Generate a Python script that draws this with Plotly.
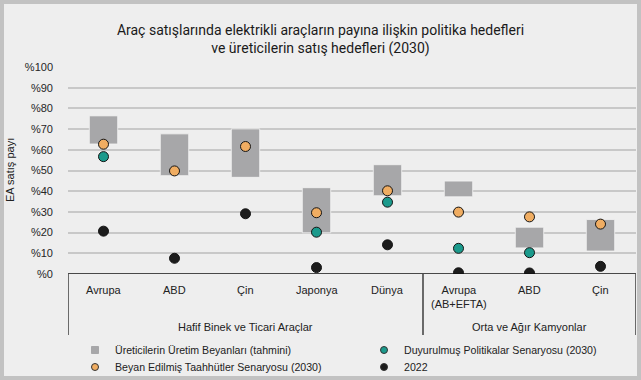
import plotly.graph_objects as go

categories = ["Avrupa", "ABD", "Çin", "Japonya", "Dünya", "Avrupa<br>(AB+EFTA)", "ABD ", "Çin "]
cat_labels = ["Avrupa", "ABD", "Çin", "Japonya", "Dünya", "Avrupa<br>(AB+EFTA)", "ABD", "Çin"]
groups = ["Hafif Binek ve Ticari Araçlar", "Orta ve Ağır Kamyonlar"]
oem_low = [62.8, 47.5, 46.7, 19.9, 37.8, 37.3, 12.6, 11.1]
oem_high = [76.4, 67.7, 70.1, 41.7, 52.8, 44.9, 22.6, 26.3]
steps_2030 = [56.7, None, None, 20.2, 34.7, 12.4, 10.3, None]
aps_2030 = [62.7, 49.8, 61.6, 29.6, 40.2, 29.9, 27.6, 24.1]
ev_2022 = [20.7, 7.6, 29.1, 3.1, 14.1, 0.6, 0.5, 3.7]
y_ticks = [0, 10, 20, 30, 40, 50, 60, 70, 80, 90, 100]

names = ["Üreticilerin Üretim Beyanları (tahmini)",
         "Duyurulmuş Politikalar Senaryosu (2030)",
         "Beyan Edilmiş Taahhütler Senaryosu (2030)",
         "2022"]
colors = ["#a7a7a9", "#1b9a8c", "#f0ad62", "#1c1c1c"]

L, R, T, B = 68, 5, 67, 106
W, H = 641, 380
pw, ph = W - L - R, H - T - B

fig = go.Figure()
fig.add_trace(go.Bar(
    x=categories, y=[h - l for h, l in zip(oem_high, oem_low)], base=oem_low,
    width=0.4, marker=dict(color=colors[0], line=dict(color="#f4f4f4", width=0.8)),
    name=names[0], showlegend=False, hoverinfo="skip"))
for vals, col, nm in [(steps_2030, colors[1], names[1]),
                      (aps_2030, colors[2], names[2]),
                      (ev_2022, colors[3], names[3])]:
    fig.add_trace(go.Scatter(
        x=categories, y=vals, mode="markers", name=nm, showlegend=False,
        marker=dict(size=10, color=col, line=dict(color="#151515", width=1))))

font = "Liberation Sans, Arial, sans-serif"

def py(pix):
    return (T + ph - pix) / ph

def px(pix):
    return (pix - L) / pw

# legend entries (small symbols as in the reference), one legend per entry
legend_spec = [(names[0], colors[0], "square", "legend", 75, 350),
               (names[2], colors[2], "circle", "legend2", 75, 367),
               (names[1], colors[1], "circle", "legend3", 364, 350),
               (names[3], colors[3], "circle", "legend4", 364, 367)]
legend_layout = {}
for nm, col, sym, lg, lx, ly in legend_spec:
    fig.add_trace(go.Scatter(
        x=[None], y=[None], mode="markers", name=nm, legend=lg, showlegend=True,
        marker=dict(size=7, symbol=sym, color=col,
                    line=dict(color="#333333" if sym == "circle" else col, width=1))))
    legend_layout[lg] = dict(x=px(lx), y=py(ly), xanchor="left", yanchor="middle",
                             orientation="v", bgcolor="rgba(0,0,0,0)",
                             font=dict(family=font, size=10.6, color="#222222"))

# background panel
fig.add_shape(type="rect", xref="paper", yref="paper",
              x0=px(4), x1=px(637), y0=py(376), y1=py(4),
              fillcolor="#eeeeee", line=dict(width=0), layer="below")

# axis box lines
fig.add_shape(type="line", xref="x", yref="y", x0=-0.5, x1=7.5, y0=0, y1=0,
              line=dict(color="#111111", width=1.6))
for xv in [-0.5, 4.5, 7.5]:
    fig.add_shape(type="line", xref="x", yref="paper", x0=xv, x1=xv, y0=0, y1=py(335),
                  line=dict(color="#111111", width=1.2))

# category labels
for c, lab in zip(categories, cat_labels):
    fig.add_annotation(x=c, xref="x", y=py(282), yref="paper", xanchor="center",
                       text=lab, showarrow=False, yanchor="top",
                       font=dict(family=font, size=11, color="#222222"))
for gi, gx in [(0, 2), (1, 6)]:
    fig.add_annotation(x=gx, xref="x", y=py(327), yref="paper", text=groups[gi],
                       xanchor="center", yanchor="middle", showarrow=False,
                       font=dict(family=font, size=11, color="#222222"))
# y axis title
fig.add_annotation(x=px(10), xref="paper", y=py(170), yref="paper", text="EA satış payı",
                   textangle=-90, showarrow=False, xanchor="center", yanchor="middle",
                   font=dict(family=font, size=11, color="#222222"))

fig.update_layout(
    width=W, height=H,
    margin=dict(l=L, r=R, t=T, b=B, autoexpand=False),
    paper_bgcolor="#c2c2c2", plot_bgcolor="rgba(0,0,0,0)",
    title=dict(text="Araç satışlarında elektrikli araçların payına ilişkin politika hedefleri<br>ve üreticilerin satış hedefleri (2030)",
               x=0.5, xanchor="center", xref="container", y=1 - 35 / H, yanchor="middle",
               font=dict(family="Roboto, sans-serif", size=14, color="#1a1a1a")),
    showlegend=True,
    **legend_layout,
)
fig.update_xaxes(type="category", categoryorder="array", categoryarray=categories,
                 range=[-0.5, 7.5], showticklabels=False, showgrid=False, zeroline=False,
                 showline=False, fixedrange=True)
fig.update_yaxes(range=[0, 100], tickvals=y_ticks, ticktext=["%" + str(v) for v in y_ticks],
                 showgrid=True, gridcolor="#c8c8c8", gridwidth=1.5, zeroline=False,
                 ticklabelstandoff=14, showline=False, fixedrange=True,
                 tickfont=dict(family=font, size=11, color="#262626"))

fig.write_html("out.html", config={"displayModeBar": False},
               post_script="document.body.style.margin='0';document.body.style.overflow='hidden';")
